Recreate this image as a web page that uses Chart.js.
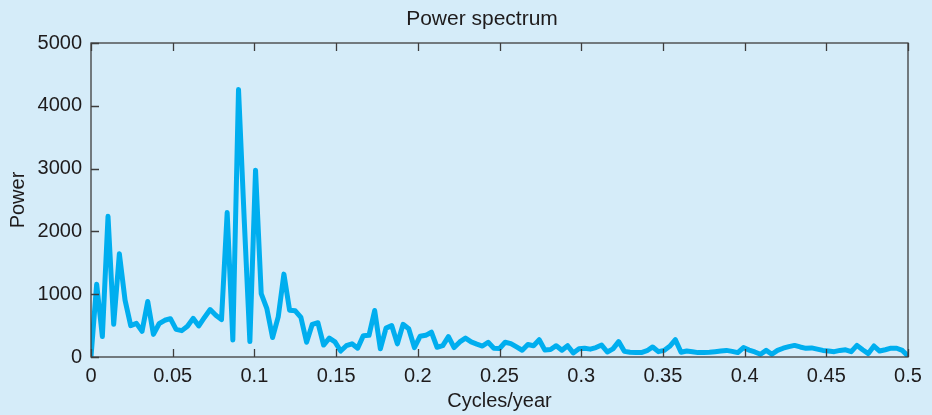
<!DOCTYPE html>
<html>
<head>
<meta charset="utf-8">
<script src="https://cdn.jsdelivr.net/npm/chart.js@4.4.1/dist/chart.umd.min.js"></script>
<style>
  html, body { margin: 0; padding: 0; background: #d5ecf9; }
  #wrap { width: 932px; height: 415px; }
</style>
</head>
<body>
<div id="wrap"><canvas id="spectrum" width="932" height="415"></canvas></div>
<script>
// periodogram of the yearly record, one value per harmonic k (frequency k / nYears)
const nYears = 288;
const power = [
    0, 1160,  325, 2240,  520, 1645,  905,  500,  535,  410,
  885,  360,  530,  585,  610,  440,  420,  490,  615,  495,
  630,  755,  665,  595, 2300,  270, 4260, 2200,  245, 2975,
 1010,  770,  310,  640, 1320,  745,  735,  630,  235,  520,
  545,  190,  300,  240,   95,  180,  210,  140,  340,  345,
  740,  130,  460,  500,  210,  520,  450,  150,  330,  345,
  395,  155,  180,  325,  150,  240,  300,  240,  205,  175,
  235,  140,  135,  235,  213,  160,  107,  200,  180,  275,
  110,  120,  180,  107,  180,   65,  130,  140,  125,  150,
  190,   80,  130,  245,   90,   75,   70,   70,  100,  160,
   85,  105,  170,  275,   75,   95,   85,   70,   70,   75,
   85,   95,  105,   90,   70,  150,  110,   80,   43,  105,
   43,  105,  140,  165,  185,  160,  138,  145,  125,  105,
   95,   85,  105,  115,   85,  185,  115,   55,  175,   95,
  115,  140,  140,  105,   15
];
const freqs = power.map((_, k) => k / nYears);
const xTicks = [0, 0.05, 0.1, 0.15, 0.2, 0.25, 0.3, 0.35, 0.4, 0.45, 0.5];
const yTicks = [0, 1000, 2000, 3000, 4000, 5000];

const textColor = '#1e1b1c';
const axisColor = '#3d3d3d';
const lineColor = '#00aeef';
const fontFamily = "'Liberation Sans', Arial, Helvetica, sans-serif";

// box around the plot with short inward tick marks, plus the heading
const frame = {
    id: 'frame',
    afterDraw(chart) {
        const { ctx, chartArea: a, scales: { x, y } } = chart;
        const len = 8;
        ctx.save();
        ctx.strokeStyle = axisColor;
        ctx.lineWidth = 1.3;
        ctx.strokeRect(a.left, a.top, a.right - a.left, a.bottom - a.top);
        ctx.beginPath();
        x.ticks.forEach(t => {
            const px = Math.round(x.getPixelForValue(t.value)) + 0.5;
            ctx.moveTo(px, a.bottom); ctx.lineTo(px, a.bottom - len);
            ctx.moveTo(px, a.top); ctx.lineTo(px, a.top + len);
        });
        y.ticks.forEach(t => {
            const py = Math.round(y.getPixelForValue(t.value)) + 0.5;
            ctx.moveTo(a.left, py); ctx.lineTo(a.left + len, py);
        });
        ctx.stroke();
        ctx.fillStyle = textColor;
        ctx.font = '21px ' + fontFamily;
        ctx.textAlign = 'center';
        ctx.textBaseline = 'alphabetic';
        ctx.fillText('Power spectrum', 482, 25);
        ctx.restore();
    }
};

const ctx = document.getElementById('spectrum');
const chart = new Chart(ctx, {
    type: 'line',
    data: {
        datasets: [{
            data: freqs.map((f, i) => ({ x: f, y: power[i] })),
            borderColor: lineColor,
            borderWidth: 5,
            pointRadius: 0,
            tension: 0,
            borderJoinStyle: 'round',
            borderCapStyle: 'round'
        }]
    },
    options: {
        animation: false,
        responsive: false,
        layout: { padding: { top: 43, right: 24, left: 0, bottom: 0 } },
        plugins: {
            legend: { display: false },
            tooltip: { enabled: false },
            title: { display: false }
        },
        scales: {
            x: {
                type: 'linear',
                min: 0,
                max: 0.5,
                afterFit: s => { s.height = 58; },
                afterBuildTicks: s => { s.ticks = xTicks.map(v => ({ value: v })); },
                ticks: {
                    color: textColor,
                    padding: 7,
                    maxRotation: 0,
                    font: { family: fontFamily, size: 20 },
                    callback: v => String(v)
                },
                grid: { display: false, drawTicks: false },
                border: { display: false },
                title: {
                    display: true,
                    text: 'Cycles/year',
                    color: textColor,
                    padding: { top: 0, bottom: 2 },
                    font: { family: fontFamily, size: 20 }
                }
            },
            y: {
                min: 0,
                max: 5000,
                afterFit: s => { s.width = 91; },
                afterBuildTicks: s => { s.ticks = yTicks.map(v => ({ value: v })); },
                ticks: {
                    color: textColor,
                    padding: 9,
                    font: { family: fontFamily, size: 20 },
                    callback: v => String(v)
                },
                grid: { display: false, drawTicks: false },
                border: { display: false },
                title: {
                    display: true,
                    text: 'Power',
                    color: textColor,
                    padding: { top: 6, bottom: 0 },
                    font: { family: fontFamily, size: 20 }
                }
            }
        }
    },
    plugins: [frame]
});
</script>
</body>
</html>
